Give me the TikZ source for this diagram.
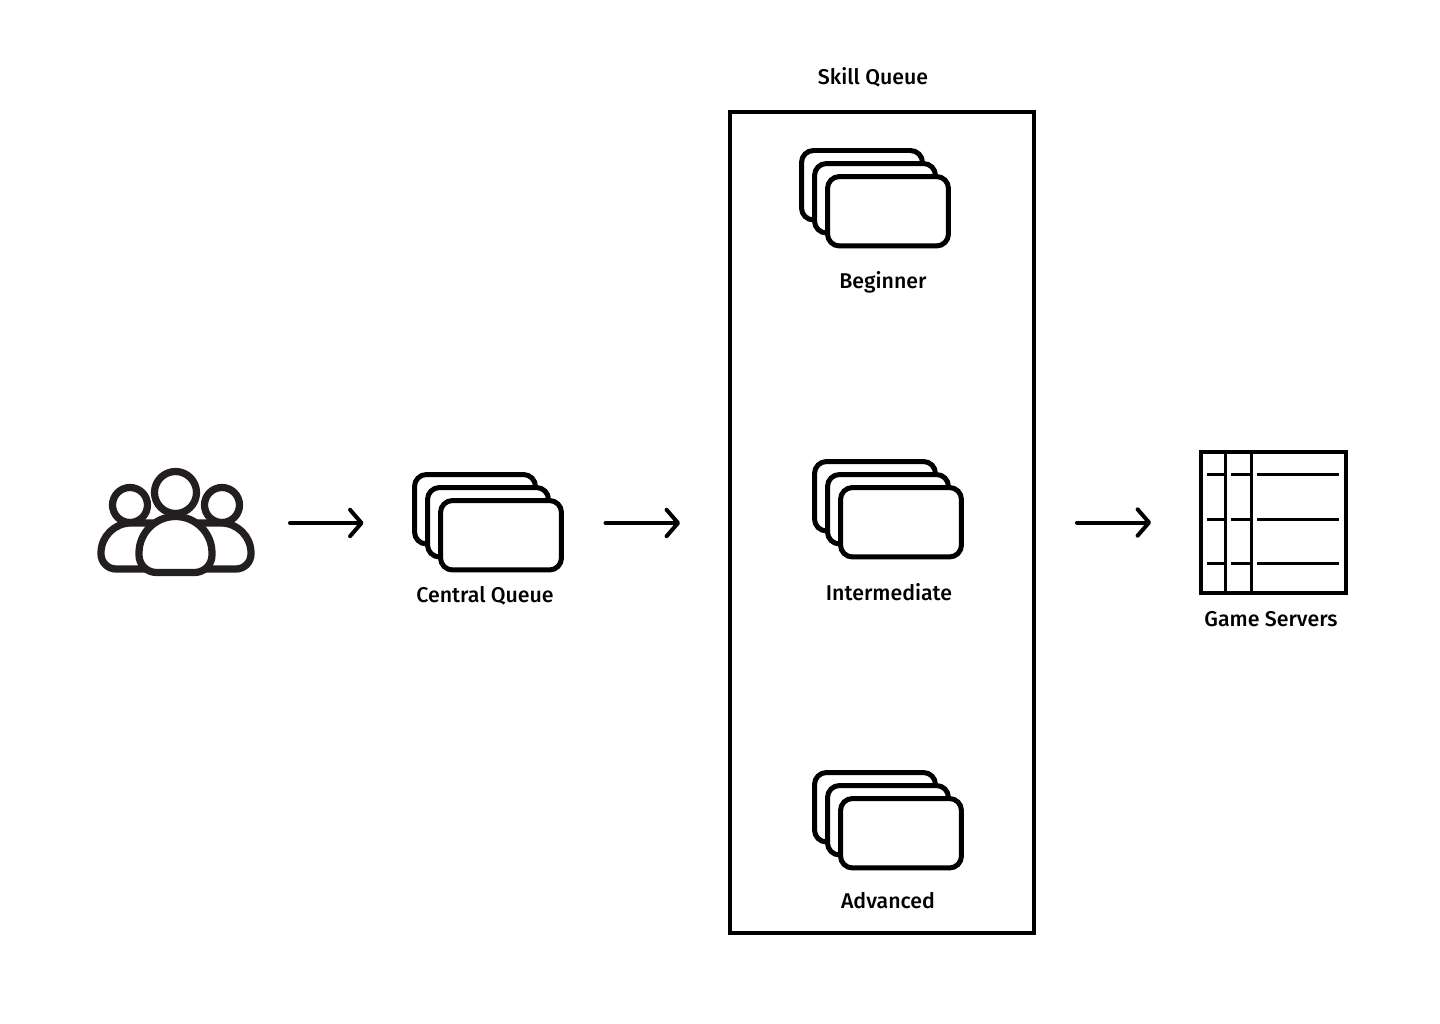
\documentclass[tikz,border=0pt]{standalone}
\usepackage{fontspec}
\setmainfont{Fira Sans Medium}
\usetikzlibrary{arrows.meta,positioning,fit}
\definecolor{iconblack}{HTML}{231F20}

\tikzset{
    card/.style={draw, fill=white, line width=0.1cm, rounded corners=0.24cm, anchor=north west,
                 minimum width=2.42cm, minimum height=1.39cm, inner sep=0pt, outer sep=0pt},
    hidebox/.style={inner sep=0pt, outer sep=0pt},
    skillbox/.style={draw, line width=0.08cm, minimum width=6.08cm, minimum height=16.42cm, outer sep=0pt},
    label/.style={font=\fontsize{12.15pt}{14pt}\selectfont, inner sep=0pt},
    flow/.style={-{Straight Barb[length=6.5pt,width=15pt,round]}, line width=0.08cm, line cap=round},
    person/.style={line width=0.145cm, draw=iconblack, fill=white},
    grid/.style={line width=0.06cm}
}

% x, y of the back card are given, the other two step down by 13
\newcommand{\cardstack}[3]{
    \foreach \i in {0,1,2} {
        \node[card] (#1\i) at (#2+\i*13,#3+\i*13) {};
    }
    \node[hidebox,fit=(#10)(#12)] (#1) {};
}

\begin{document}
\begin{tikzpicture}[x=0.02cm,y=-0.02cm]
    \useasboundingbox (0,0) rectangle (1440,1024);

    %Draw users icon
    \draw[person] (101,553) arc[start angle=180,end angle=270,radius=30] -- (150,523) -- (150,569)
        -- (116,569) arc[start angle=90,end angle=180,radius=15] -- cycle;
    \draw[person] (251,553) arc[start angle=0,end angle=-90,radius=30] -- (200,523) -- (200,569)
        -- (236,569) arc[start angle=90,end angle=0,radius=15] -- cycle;
    \draw[person] (130,505) circle (17.5);
    \draw[person] (222,505) circle (17.5);
    \draw[person] (175.5,492.5) circle (21);
    \draw[person] (139,553) arc[start angle=180,end angle=360,radius=36.5] -- (212,555)
        arc[start angle=0,end angle=90,radius=17.5] -- (156.5,572.5)
        arc[start angle=90,end angle=180,radius=17.5] -- cycle;
    \node[hidebox,minimum width=3.12cm,minimum height=2.12cm] (users) at (176,523) {};

    %Draw queues
    \cardstack{central}{414.5}{474.5}
    \node[skillbox] (skill) at (882,522.5) {};
    \cardstack{beginner}{801.5}{150.5}
    \cardstack{intermediate}{814.5}{461.5}
    \cardstack{advanced}{814.5}{772.5}

    %Draw game servers table
    \node[draw,line width=0.08cm,minimum width=2.9cm,minimum height=2.82cm,outer sep=0pt] (servers) at (1273.5,522.5) {};
    \foreach \x in {1225,1251} {
        \draw[grid] (\x,452) -- (\x,593);
    }
    \foreach \y in {474.3,519.3,563.7} {
        \draw[grid] (1207,\y) -- (1225,\y);
        \draw[grid] (1231,\y) -- (1251,\y);
        \draw[grid] (1257,\y) -- (1339,\y);
    }

    %Draw arrows between the stages
    \draw[flow,shorten <=0.72cm,shorten >=1.02cm] (users.east) -- (users.east -| central.west);
    \draw[flow,shorten <=0.88cm,shorten >=1.0cm] ([yshift=-0.015cm]central.east) -- ([yshift=-0.015cm]central.east -| skill.west);
    \draw[flow,shorten <=0.86cm,shorten >=1.0cm] (skill.east) -- (servers.west);

    %Draw labels
    \node[label] (skilllabel) at (873,77.5) {Skill Queue};
    \node[label] (beginnerlabel) at (883,282) {Beginner};
    \node[label] (intermediatelabel) at (889,592) {Intermediate};
    \node[label] (advancedlabel) at (888,901) {Advanced};
    \node[label] (centrallabel) at (485,595.5) {Central Queue};
    \node[label] (serverslabel) at (1271,619.5) {Game Servers};
\end{tikzpicture}
\end{document}
